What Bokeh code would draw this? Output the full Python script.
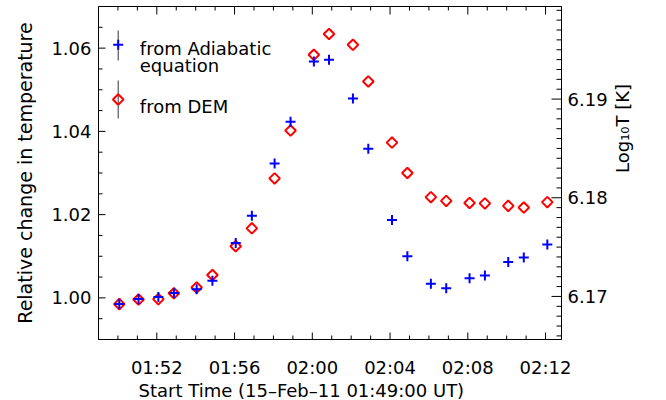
import numpy as np
from bokeh.plotting import figure
from bokeh.models import (Range1d, LinearAxis, FixedTicker, PrintfTickFormatter, Title)
from bokeh.core.properties import value
from bokeh.embed import file_html
from bokeh.resources import INLINE

# minutes after 01:49:00 UT
time_min = [1.07, 2.06, 3.08, 3.88, 5.05, 5.86, 7.06, 7.89, 9.06, 9.88, 11.08, 11.86,
            13.09, 13.88, 15.10, 15.89, 17.10, 17.89, 19.09, 19.88, 21.08, 21.88, 23.09]
adiabatic = [0.9985, 0.9997, 1.0002, 1.0012, 1.0021, 1.0041, 1.0132, 1.0197, 1.0323,
             1.0423, 1.0568, 1.0572, 1.0479, 1.0358, 1.0187, 1.0100, 1.0034, 1.0023,
             1.0047, 1.0054, 1.0086, 1.0097, 1.0128]
dem = [0.9985, 0.9996, 0.9997, 1.0011, 1.0025, 1.0055, 1.0124, 1.0167, 1.0287, 1.0402,
       1.0584, 1.0634, 1.0608, 1.0520, 1.0373, 1.0300, 1.0242, 1.0233, 1.0228, 1.0227,
       1.0221, 1.0217, 1.0230]
tick_minutes = [3, 7, 11, 15, 19, 23]
tick_labels = ["01:52", "01:56", "02:00", "02:04", "02:08", "02:12"]
minor_minutes = [m for m in range(1, 24) if m not in tick_minutes]
left_major = [1.00, 1.02, 1.04, 1.06]
left_minor = [0.995, 1.005, 1.010, 1.015, 1.025, 1.030, 1.035, 1.045, 1.050, 1.055, 1.065]
right_major = [6.17, 6.18, 6.19]
right_minor = [6.166, 6.167, 6.168, 6.169, 6.171, 6.172, 6.173, 6.174, 6.175, 6.176,
               6.177, 6.178, 6.179, 6.181, 6.182, 6.183, 6.184, 6.185, 6.186, 6.187,
               6.188, 6.189, 6.191, 6.192, 6.193, 6.194, 6.195, 6.196, 6.197, 6.198,
               6.199]
log_t_base = 6.17
legend_labels = ["from Adiabatic", "equation", "from DEM"]

FONT = "DejaVu Sans"
FS = "18px"

# layout (canvas pixels)
FL, FR, FT, FB = 98, 561, 6, 339

x0, x1 = 0.0, 23.82
y0, y1 = 0.99, 1.07
l0, l1 = log_t_base + np.log10(y0), log_t_base + np.log10(y1)
p = figure(width=666, height=400, output_backend="svg", toolbar_location=None,
           x_range=Range1d(x0, x1), y_range=Range1d(y0, y1),
           min_border_left=FL, min_border_right=666 - FR, min_border_top=FT,
           min_border_bottom=400 - FB)
p.extra_y_ranges = {"logT": Range1d(l0, l1), "py": Range1d(FB, FT)}
p.extra_x_ranges = {"px": Range1d(FL, FR)}
p.outline_line_color = "black"
p.background_fill_color = "white"
p.border_fill_color = "white"
p.xgrid.visible = False
p.ygrid.visible = False


def style(ax):
    ax.axis_line_color = "black"
    ax.axis_line_width = 1
    ax.major_tick_in = 0
    ax.major_tick_out = 0
    ax.minor_tick_in = 0
    ax.minor_tick_out = 0
    ax.major_tick_line_color = None
    ax.minor_tick_line_color = None
    ax.major_label_text_font = FONT
    ax.major_label_text_font_size = FS
    ax.major_label_text_color = "black"
    ax.axis_label_text_font = FONT
    ax.axis_label_text_font_size = FS
    ax.axis_label_text_font_style = "normal"
    ax.axis_label_text_color = "black"


overrides = {m: lab for m, lab in zip(tick_minutes, tick_labels)}

xb = p.xaxis[0]
xb.ticker = FixedTicker(ticks=tick_minutes)
xb.major_label_overrides = overrides
style(xb)
xb.major_label_standoff = 17

yl = p.yaxis[0]
yl.ticker = FixedTicker(ticks=left_major)
yl.formatter = PrintfTickFormatter(format="%.2f")
yl.axis_label = "Relative change in temperature"
style(yl)
yl.axis_label_text_font_size = "19px"
yl.major_label_standoff = 7
yl.axis_label_standoff = 12

yr = LinearAxis(y_range_name="logT", ticker=FixedTicker(ticks=right_major),
                formatter=PrintfTickFormatter(format="%.2f"))
style(yr)
yr.major_label_standoff = 6
p.add_layout(yr, "right")

# second right axis carrying only the (upward reading) title
yr2 = LinearAxis(y_range_name="logT", ticker=FixedTicker(ticks=[]),
                 axis_label="Log\u2081\u2080T [K]")
style(yr2)
yr2.axis_line_color = None
yr2.major_label_standoff = 0
yr2.axis_label_standoff = 12
yr2.bounds = (l0 + 0.0035, 6.1853)
if "axis_label_orientation" in yr2.properties():
    yr2.axis_label_orientation = np.pi / 2
p.add_layout(yr2, "right")

p.add_layout(Title(text="Start Time (15\u2013Feb\u201311 01:49:00 UT)", align="left",
                   offset=40, text_font=FONT, text_font_size=FS,
                   text_font_style="normal", text_color="black", standoff=-5), "below")

# inward tick marks drawn as short segments from the frame edges
dx = (x1 - x0) / (FR - FL)          # data units per pixel
dy = (y1 - y0) / (FB - FT)
dl = (l1 - l0) / (FB - FT)
TK = dict(line_color="black", line_width=1)


def vticks(xs, ybase, length):
    p.segment(x0=xs, y0=[ybase] * len(xs), x1=xs, y1=[ybase + length] * len(xs), **TK)


def hticks(ys, xbase, length, **kw):
    p.segment(x0=[xbase] * len(ys), y0=ys, x1=[xbase + length] * len(ys), y1=ys, **TK, **kw)


vticks(tick_minutes, y0, 7 * dy)
vticks(minor_minutes, y0, 4 * dy)
vticks(tick_minutes, y1, -8 * dy)
vticks(minor_minutes, y1, -4 * dy)
hticks(left_major, x0, 7 * dx)
hticks(left_minor, x0, 4 * dx)
hticks(right_major, x1, -10 * dx, y_range_name="logT")
hticks(right_minor, x1, -5 * dx, y_range_name="logT")

# data
p.scatter(time_min, dem, marker="square", angle=np.pi / 4, size=7.5,
          fill_color=None, line_color="red", line_width=2)
p.scatter(time_min, adiabatic, marker="cross", size=10,
          line_color="blue", line_width=2)

# legend (symbols with error bar, drawn in frame pixel coordinates)
leg_x = [117.7, 117.7]
leg_y = [44.3, 99.0]
leg_bar_top = [30, 80]
leg_bar_bot = [60, 118]
p.segment(x0=leg_x, y0=leg_bar_top, x1=leg_x, y1=leg_bar_bot, line_color="#333333",
          line_width=1, x_range_name="px", y_range_name="py")
p.scatter([leg_x[1]], [leg_y[1]], marker="square", angle=np.pi / 4, size=7.5,
          fill_color=None, line_color="red", line_width=2,
          x_range_name="px", y_range_name="py")
p.scatter([leg_x[0]], [leg_y[0]], marker="cross", size=10, line_color="blue",
          line_width=2, x_range_name="px", y_range_name="py")
p.text(x=[139.3, 139.3, 139.3], y=[48.3, 65.3, 105.7], text=legend_labels,
       text_font=value(FONT), text_font_size=FS, text_color="black",
       text_baseline="alphabetic", x_range_name="px", y_range_name="py")

open("out.html", "w").write(file_html(p, INLINE))
